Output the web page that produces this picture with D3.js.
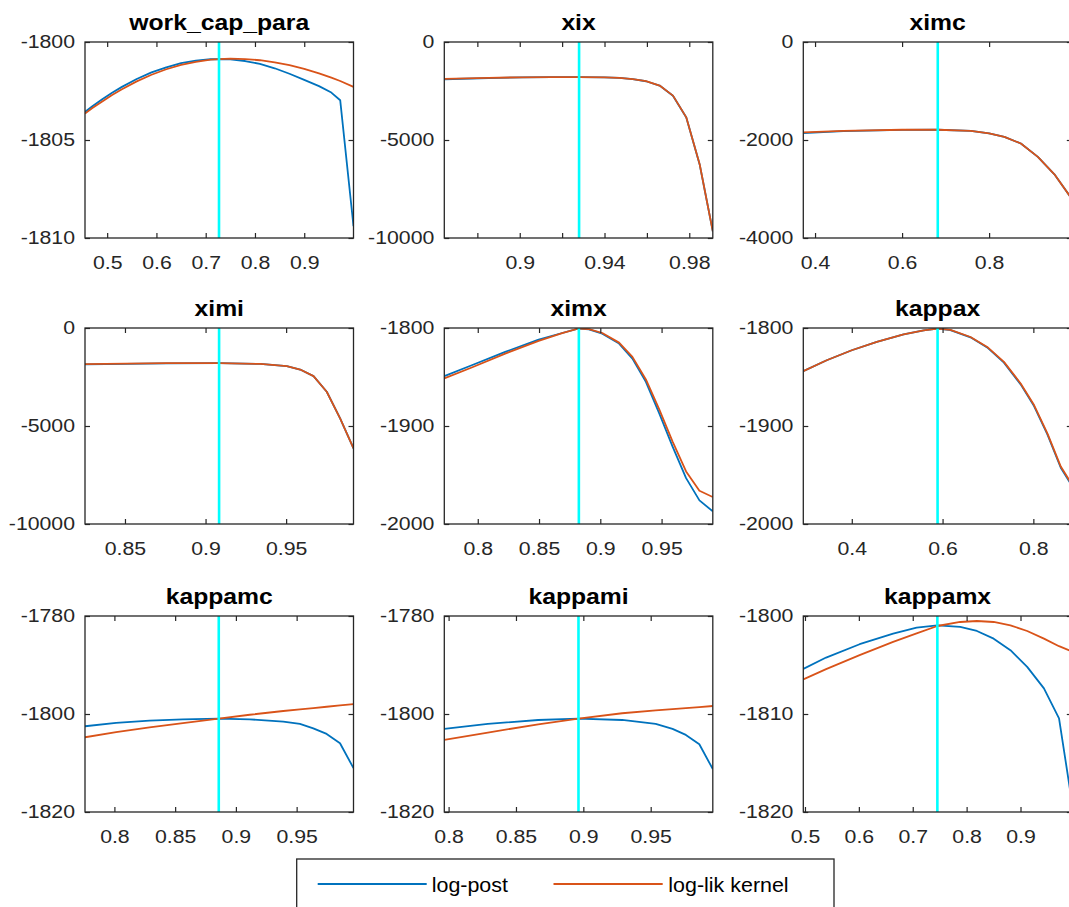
<!DOCTYPE html>
<html>
<head>
<meta charset="utf-8">
<script src="https://cdn.jsdelivr.net/npm/d3@7"></script>
<style>
  html, body { margin: 0; padding: 0; background: #ffffff; overflow: hidden; }
  svg { display: block; }
</style>
</head>
<body>
<svg id="fig" width="1069" height="907"></svg>
<script>
// ---- parameter names, modes, axis limits and ticks ----
const panelNames = ["work_cap_para", "xix", "ximc", "ximi", "ximx", "kappax", "kappamc", "kappami", "kappamx"];
const modeValues = [0.727, 0.928, 0.682, 0.9084, 0.8825, 0.589, 0.8859, 0.8964, 0.7457];
const xLimits = [[0.455, 1.0], [0.8644, 0.9911], [0.373, 0.99], [0.8252, 0.9918], [0.7727, 0.9918],
                 [0.2932, 0.8847], [0.7758, 0.9968], [0.7968, 0.9961], [0.4969, 0.9952]];
const yLimits = [[-1810, -1800], [-10000, 0], [-4000, 0], [-10000, 0], [-2000, -1800],
                 [-2000, -1800], [-1820, -1780], [-1820, -1780], [-1820, -1800]];
const xTicks = [[0.5, 0.6, 0.7, 0.8, 0.9], [0.88, 0.9, 0.92, 0.94, 0.96, 0.98], [0.4, 0.6, 0.8],
                [0.85, 0.9, 0.95], [0.8, 0.85, 0.9, 0.95], [0.4, 0.6, 0.8],
                [0.8, 0.85, 0.9, 0.95], [0.8, 0.85, 0.9, 0.95], [0.5, 0.6, 0.7, 0.8, 0.9]];
const xTickLabels = [[0.5, 0.6, 0.7, 0.8, 0.9], [0.9, 0.94, 0.98], [0.4, 0.6, 0.8],
                     [0.85, 0.9, 0.95], [0.8, 0.85, 0.9, 0.95], [0.4, 0.6, 0.8],
                     [0.8, 0.85, 0.9, 0.95], [0.8, 0.85, 0.9, 0.95], [0.5, 0.6, 0.7, 0.8, 0.9]];
const yTicks = [[-1810, -1805, -1800], [-10000, -5000, 0], [-4000, -2000, 0], [-10000, -5000, 0],
                [-2000, -1900, -1800], [-2000, -1900, -1800], [-1820, -1800, -1780],
                [-1820, -1800, -1780], [-1820, -1810, -1800]];

// ---- grid points and curve values (log-post, log-lik kernel) ----
const gridWorkCapPara = [0.455, 0.47, 0.49, 0.51, 0.53, 0.56, 0.59, 0.62, 0.65, 0.68, 0.71, 0.727, 0.75, 0.78, 0.81, 0.84, 0.87, 0.9, 0.93, 0.955, 0.973, 1.0];
const postWorkCapPara = [-1803.57, -1803.28, -1802.92, -1802.59, -1802.29, -1801.89, -1801.55, -1801.29, -1801.08, -1800.95, -1800.88, -1800.87, -1800.89, -1800.97, -1801.12, -1801.34, -1801.62, -1801.93, -1802.25, -1802.58, -1802.97, -1809.4];
const likWorkCapPara  = [-1803.65, -1803.37, -1803.03, -1802.7, -1802.41, -1802.01, -1801.67, -1801.39, -1801.17, -1801.01, -1800.9, -1800.87, -1800.85, -1800.87, -1800.93, -1801.04, -1801.18, -1801.37, -1801.6, -1801.82, -1801.99, -1802.29];

const gridXix = [0.8644, 0.8853, 0.9011, 0.915, 0.928, 0.94, 0.947, 0.9533, 0.9596, 0.966, 0.9723, 0.9786, 0.9849, 0.9911];
const postXix = [-1900, -1840, -1805, -1792, -1790, -1805, -1832, -1892, -2002, -2224, -2738, -3850, -6245, -9665];
const likXix  = [-1880, -1829, -1800, -1790, -1790, -1805, -1830, -1890, -2000, -2222, -2735, -3846, -6239, -9658];

const gridXimc = [0.373, 0.465, 0.6, 0.682, 0.758, 0.8, 0.835, 0.873, 0.912, 0.95, 0.99];
const postXimc = [-1860, -1818, -1793, -1791, -1812, -1867, -1935, -2072, -2345, -2701, -3200];
const likXimc  = [-1846, -1812, -1791, -1791, -1812, -1867, -1935, -2072, -2345, -2701, -3200];

const gridXimi = [0.8252, 0.8759, 0.9084, 0.9339, 0.9504, 0.9587, 0.967, 0.9752, 0.9835, 0.9918];
const postXimi = [-1860, -1800, -1797, -1831, -1949, -2119, -2458, -3254, -4610, -6136];
const likXimi  = [-1847, -1797, -1797, -1831, -1949, -2119, -2458, -3254, -4610, -6136];

const gridXimx = [0.7727, 0.7951, 0.8224, 0.8497, 0.8689, 0.8825, 0.8907, 0.9016, 0.9153, 0.9262, 0.9372, 0.9481, 0.959, 0.97, 0.9809, 0.9918];
const postXimx = [-1849.2, -1838, -1824.4, -1811.9, -1805.1, -1800.5, -1801.4, -1805.8, -1815.9, -1831.2, -1854.9, -1887.1, -1921, -1953.2, -1975.9, -1987.1];
const likXimx  = [-1851.5, -1840.3, -1826.1, -1813.2, -1805.3, -1800.5, -1801.2, -1805.1, -1814.9, -1829.5, -1852.5, -1883, -1915.9, -1946.4, -1966.1, -1972.5];

const gridKappax = [0.2932, 0.3448, 0.4, 0.4552, 0.5142, 0.5584, 0.5893, 0.6173, 0.6615, 0.6983, 0.7352, 0.772, 0.8015, 0.8309, 0.8604, 0.8847];
const postKappax = [-1844.1, -1832.9, -1822.7, -1814.2, -1806.4, -1802.4, -1800.6, -1802.1, -1809.5, -1819.8, -1835.3, -1857.5, -1879.6, -1908.6, -1942.6, -1960.8];
const likKappax  = [-1844.1, -1832.9, -1822.7, -1814.2, -1806.4, -1802.4, -1800.6, -1802.0, -1809.2, -1819.3, -1834.6, -1856.6, -1878.6, -1907.5, -1941.4, -1959.5];

const gridKappamc = [0.7758, 0.8014, 0.8289, 0.8564, 0.8859, 0.9114, 0.939, 0.9527, 0.9637, 0.9747, 0.9857, 0.9968];
const postKappamc = [-1802.5, -1801.83, -1801.36, -1801.08, -1800.95, -1801.08, -1801.56, -1802.03, -1802.92, -1804.07, -1805.97, -1811.05];
const likKappamc  = [-1804.75, -1803.7, -1802.71, -1801.85, -1800.95, -1800.15, -1799.39, -1799.05, -1798.8, -1798.52, -1798.25, -1797.97];

const gridKappami = [0.7968, 0.8291, 0.8665, 0.8964, 0.9288, 0.9537, 0.9662, 0.9761, 0.9861, 0.9961];
const postKappami = [-1803.05, -1802.03, -1801.22, -1800.95, -1801.22, -1802.03, -1803.05, -1804.27, -1806.17, -1811.25];
const likKappami  = [-1805.29, -1803.8, -1802.1, -1800.95, -1799.85, -1799.25, -1799.0, -1798.8, -1798.58, -1798.37];

const gridKappamx = [0.4969, 0.5392, 0.6014, 0.6636, 0.7072, 0.7457, 0.788, 0.8191, 0.8502, 0.8813, 0.9124, 0.9435, 0.9715, 0.9952];
const postKappamx = [-1805.39, -1804.24, -1802.88, -1801.8, -1801.19, -1800.95, -1801.12, -1801.53, -1802.31, -1803.49, -1805.19, -1807.39, -1810.44, -1818.9];
const likKappamx  = [-1806.47, -1805.42, -1804.0, -1802.64, -1801.78, -1801.02, -1800.61, -1800.51, -1800.61, -1800.95, -1801.53, -1802.31, -1803.08, -1803.6];

const grids = [gridWorkCapPara, gridXix, gridXimc, gridXimi, gridXimx, gridKappax, gridKappamc, gridKappami, gridKappamx];
const postSeries = [postWorkCapPara, postXix, postXimc, postXimi, postXimx, postKappax, postKappamc, postKappami, postKappamx];
const likSeries = [likWorkCapPara, likXix, likXimc, likXimi, likXimx, likKappax, likKappamc, likKappami, likKappamx];

const seriesNames = ["log-post", "log-lik kernel"];

// ---- styling ----
const COLOR_POST = "#0072BD";
const COLOR_LIK = "#D95319";
const COLOR_MODE = "#00FFFF";
const AXIS_COLOR = "#262626";
const FONT = "'Liberation Sans', Arial, Helvetica, sans-serif";
const STRETCH = 1.15;

const svg = d3.select("#fig");
svg.append("rect").attr("width", 1069).attr("height", 907).attr("fill", "#fff");

const colLeft = [85, 444.3, 803.3];
const rowTop = [42, 328, 616];
const W = 268.5, H = 196;

panelNames.forEach((name, i) => {
  const col = i % 3, row = Math.floor(i / 3);
  const g = svg.append("g").attr("transform", `translate(${colLeft[col]},${rowTop[row]})`);

  const x = d3.scaleLinear().domain(xLimits[i]).range([0, W]);
  const y = d3.scaleLinear().domain(yLimits[i]).range([H, 0]);

  const clipId = "clip" + i;
  g.append("clipPath").attr("id", clipId)
    .append("rect").attr("x", 0).attr("y", 0).attr("width", W).attr("height", H);

  // curves
  const line = d3.line().x(d => x(d[0])).y(d => y(d[1]));
  const plot = g.append("g").attr("clip-path", `url(#${clipId})`);
  const grid = grids[i];
  plot.append("path")
    .attr("d", line(grid.map((v, k) => [v, postSeries[i][k]])))
    .attr("fill", "none").attr("stroke", COLOR_POST).attr("stroke-width", 1.8)
    .attr("stroke-linejoin", "round");
  plot.append("path")
    .attr("d", line(grid.map((v, k) => [v, likSeries[i][k]])))
    .attr("fill", "none").attr("stroke", COLOR_LIK).attr("stroke-width", 1.8)
    .attr("stroke-linejoin", "round");
  // mode marker
  plot.append("line")
    .attr("x1", x(modeValues[i])).attr("x2", x(modeValues[i]))
    .attr("y1", 0).attr("y2", H)
    .attr("stroke", COLOR_MODE).attr("stroke-width", 2.6);

  // axes (ticks point inward, box on)
  const labelSet = xTickLabels[i];
  const fmtX = v => labelSet.includes(v) ? String(v) : "";
  const styleAxis = sel => {
    sel.select(".domain").remove();
    sel.selectAll(".tick line").attr("stroke", AXIS_COLOR).attr("stroke-width", 1.2);
    sel.selectAll(".tick text").attr("fill", AXIS_COLOR)
      .style("font-family", FONT).style("font-size", "18.5px");
  };
  const gx = g.append("g").attr("transform", `translate(0,${H})`)
    .call(d3.axisBottom(x).tickValues(xTicks[i]).tickSize(-5).tickSizeOuter(0).tickPadding(18).tickFormat(fmtX));
  styleAxis(gx);
  gx.selectAll(".tick text").attr("transform", `scale(${STRETCH},1)`);

  const gy = g.append("g")
    .call(d3.axisLeft(y).tickValues(yTicks[i]).tickSize(-5).tickSizeOuter(0).tickPadding(10).tickFormat(v => String(v)));
  styleAxis(gy);
  gy.selectAll(".tick text").attr("x", -10 / STRETCH).attr("transform", `scale(${STRETCH},1)`);

  const gt = g.append("g")
    .call(d3.axisTop(x).tickValues(xTicks[i]).tickSize(-5).tickSizeOuter(0).tickFormat(() => ""));
  styleAxis(gt);
  const gr = g.append("g").attr("transform", `translate(${W},0)`)
    .call(d3.axisRight(y).tickValues(yTicks[i]).tickSize(-5).tickSizeOuter(0).tickFormat(() => ""));
  styleAxis(gr);

  g.append("rect").attr("x", 0).attr("y", 0).attr("width", W).attr("height", H)
    .attr("fill", "none").attr("stroke", AXIS_COLOR).attr("stroke-width", 1.3);

  // title
  g.append("g").attr("transform", `translate(${W / 2},-12)`)
    .append("text")
    .attr("text-anchor", "middle")
    .attr("transform", `scale(${STRETCH},1)`)
    .style("font-family", FONT).style("font-size", "21.5px").style("font-weight", "bold")
    .attr("fill", "#000")
    .text(name);
});

// ---- legend ----
const legend = svg.append("g");
legend.append("rect")
  .attr("x", 296.7).attr("y", 859).attr("width", 537.3).attr("height", 60)
  .attr("fill", "#fff").attr("stroke", AXIS_COLOR).attr("stroke-width", 1.3);
const legendItems = [
  { name: seriesNames[0], color: COLOR_POST, x0: 317.7, x1: 426.7, tx: 431.7 },
  { name: seriesNames[1], color: COLOR_LIK, x0: 553.5, x1: 662.7, tx: 668.3 }
];
legendItems.forEach(it => {
  legend.append("line").attr("x1", it.x0).attr("x2", it.x1).attr("y1", 884).attr("y2", 884)
    .attr("stroke", it.color).attr("stroke-width", 1.8);
  legend.append("g").attr("transform", `translate(${it.tx},892)`)
    .append("text").attr("transform", "scale(1.1,1)")
    .style("font-family", FONT).style("font-size", "19.5px").attr("fill", "#000")
    .text(it.name);
});
</script>
</body>
</html>
